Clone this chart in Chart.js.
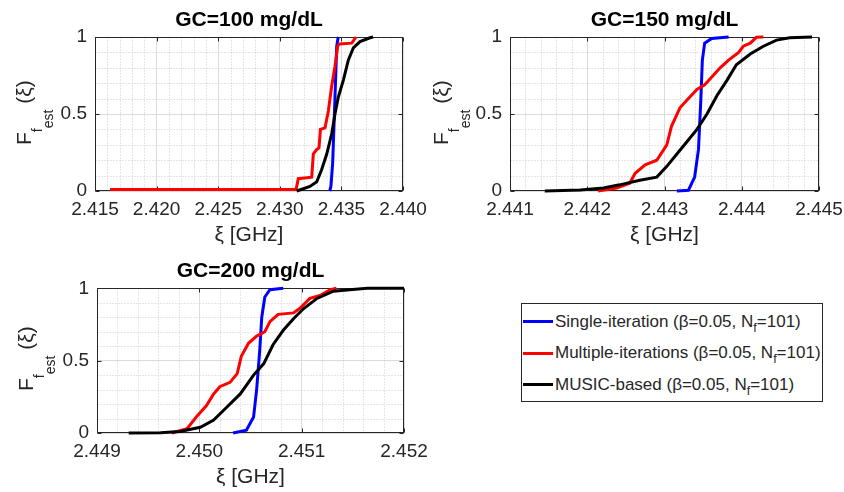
<!DOCTYPE html>
<html>
<head>
<meta charset="utf-8">
<script src="https://cdn.jsdelivr.net/npm/chart.js@4.4.1/dist/chart.umd.min.js"></script>
<style>
  html, body { margin: 0; padding: 0; background: #fff; }
  #fig { position: relative; width: 844px; height: 492px; overflow: hidden;
         font-family: 'Liberation Sans', Arial, sans-serif; color: #262626; }
  canvas { position: absolute; }
  .ylab { position: absolute; transform-origin: 0 0; transform: rotate(-90deg);
          font-size: 21px; line-height: 21px; white-space: nowrap; }
  .ylab .s1 { font-size: 14px; position: relative; top: 11px; }
  .ylab .s2 { position: relative; top: 11px; }
  #legend { position: absolute; left: 521px; top: 303px; width: 302px; height: 99px;
            box-sizing: border-box; border: 1px solid #262626; background: #fff; }
  #legend .row { position: absolute; left: 0; height: 24px; line-height: 24px; font-size: 17px; white-space: nowrap; }
  #legend .sw { position: absolute; left: 1px; top: 10.5px; width: 30px; height: 3px; }
  #legend .txt { position: absolute; left: 33px; top: 0; }
  #legend .sub { font-size: 12.5px; position: relative; top: 5px; }
</style>
</head>
<body>
<div id="fig">
  <canvas id="c1" width="430" height="250" style="left:0;top:0"></canvas>
  <canvas id="c2" width="424" height="250" style="left:420px;top:0"></canvas>
  <canvas id="c3" width="430" height="242" style="left:0;top:250px"></canvas>
  <div class="ylab" style="left:13px;top:144.5px">F<span class="s1">f<span class="s2">est</span></span> (ξ)</div>
  <div class="ylab" style="left:430px;top:144.5px">F<span class="s1">f<span class="s2">est</span></span> (ξ)</div>
  <div class="ylab" style="left:15px;top:390.5px">F<span class="s1">f<span class="s2">est</span></span> (ξ)</div>
  <div id="legend"></div>
</div>
<script>
// series names / colours
const seriesNames = ['Single-iteration', 'Multiple-iterations', 'MUSIC-based'];
const seriesColors = ['#0000ff', '#ff0000', '#000000'];
const betaValue = '0.05';
const nfValue = '101';

const titles = ['GC=100 mg/dL', 'GC=150 mg/dL', 'GC=200 mg/dL'];
const xLabel = 'ξ [GHz]';

// tick labels
const xTicks100 = [2.415, 2.420, 2.425, 2.430, 2.435, 2.440];
const xTicks150 = [2.441, 2.442, 2.443, 2.444, 2.445];
const xTicks200 = [2.449, 2.450, 2.451, 2.452];
const yTicks = [0, 0.5, 1];

// GC = 100 mg/dL (frequency in GHz, empirical CDF)
const single100X = [2.43405, 2.43415, 2.43429, 2.43448, 2.43462, 2.43472, 2.43476];
const single100F = [0, 0.03, 0.18, 0.61, 0.94, 0.99, 1];
const multi100X = [2.41622, 2.43132, 2.43150, 2.43259, 2.43272, 2.43300, 2.43318, 2.43330, 2.43367,
                   2.43394, 2.43421, 2.43448, 2.43470, 2.43482, 2.43584, 2.43619];
const multi100F = [0.01, 0.01, 0.08, 0.09, 0.24, 0.27, 0.28, 0.40, 0.41, 0.52, 0.68, 0.81, 0.94, 0.955, 0.96, 1];
const music100X = [2.43137, 2.43245, 2.43300, 2.43340, 2.43381, 2.43421, 2.43448, 2.43475, 2.43516,
                   2.43556, 2.43597, 2.43651, 2.43732, 2.43757];
const music100F = [0, 0.03, 0.06, 0.14, 0.24, 0.37, 0.50, 0.61, 0.72, 0.85, 0.93, 0.97, 0.995, 1];

// GC = 150 mg/dL
const single150X = [2.44316, 2.44331, 2.44339, 2.44344, 2.44347, 2.44349, 2.44352, 2.44361, 2.44383];
const single150F = [0, 0.005, 0.09, 0.27, 0.59, 0.85, 0.96, 0.99, 1];
const multi150X = [2.44214, 2.44238, 2.44255, 2.44262, 2.44275, 2.44290, 2.44303, 2.44309, 2.44320, 2.44331,
                   2.44342, 2.44352, 2.44363, 2.44372, 2.44383, 2.44396, 2.44402, 2.44411, 2.44419, 2.44428];
const multi150F = [0, 0.02, 0.05, 0.115, 0.17, 0.20, 0.30, 0.42, 0.54, 0.60,
                   0.66, 0.69, 0.75, 0.80, 0.85, 0.90, 0.94, 0.96, 0.998, 1];
const music150X = [2.44145, 2.44191, 2.44221, 2.44242, 2.44268, 2.44290, 2.44303, 2.44316, 2.44329, 2.44342,
                   2.44355, 2.44368, 2.44381, 2.44393, 2.44411, 2.44428, 2.44445, 2.44462, 2.44491];
const music150F = [0, 0.006, 0.02, 0.04, 0.07, 0.09, 0.16, 0.24, 0.32, 0.40,
                   0.50, 0.62, 0.72, 0.82, 0.89, 0.94, 0.98, 0.995, 1];

// GC = 200 mg/dL
const single200X = [2.45033, 2.45046, 2.45053, 2.45056, 2.45059, 2.45061, 2.45064, 2.45069, 2.45082];
const single200F = [0, 0.02, 0.11, 0.30, 0.57, 0.80, 0.94, 0.99, 1];
const multi200X = [2.44973, 2.44988, 2.44997, 2.45007, 2.45014, 2.45020, 2.45030, 2.45037, 2.45041, 2.45048,
                   2.45056, 2.45064, 2.45069, 2.45077, 2.45092, 2.45098, 2.45108, 2.45118, 2.45128, 2.45134];
const multi200F = [0, 0.03, 0.11, 0.19, 0.27, 0.32, 0.35, 0.41, 0.53, 0.62,
                   0.67, 0.70, 0.77, 0.82, 0.83, 0.86, 0.93, 0.95, 0.99, 1];
const music200X = [2.44931, 2.44962, 2.44981, 2.45001, 2.45014, 2.45027, 2.45040, 2.45053, 2.45063,
                   2.45072, 2.45082, 2.45092, 2.45102, 2.45115, 2.45131, 2.45147, 2.45164, 2.45200];
const music200F = [0, 0.002, 0.01, 0.04, 0.09, 0.18, 0.27, 0.40, 0.48, 0.61, 0.71, 0.79, 0.86, 0.93, 0.98, 0.99, 1, 1];

Chart.defaults.font.family = "'Liberation Sans', Arial, sans-serif";

// MATLAB-like axes: dotted minor grid, box and inward ticks
const axesBox = {
    id: 'axesBox',
    beforeDatasetsDraw(chart, args, opts) {
        const { ctx, chartArea: a, scales: { x, y } } = chart;
        const L = Math.round(a.left) + 0.5, R = Math.round(a.right) - 0.5;
        const T = Math.round(a.top) + 0.5, B = Math.round(a.bottom) - 0.5;
        const isMajor = (scale, v, step) => scale.ticks.some(t => Math.abs(t.value - v) < step / 10);
        ctx.save();
        ctx.lineWidth = 1;
        ctx.strokeStyle = '#cbcbcb';
        ctx.setLineDash([1, 2]);
        ctx.beginPath();
        const nx = Math.round((x.max - x.min) / opts.xStep);
        for (let i = 1; i < nx; i++) {
            const v = x.min + i * opts.xStep;
            if (isMajor(x, v, opts.xStep)) continue;
            const px = Math.round(x.getPixelForValue(v)) + 0.5;
            ctx.moveTo(px, T); ctx.lineTo(px, B);
        }
        const ny = Math.round((y.max - y.min) / opts.yStep);
        for (let i = 1; i < ny; i++) {
            const v = y.min + i * opts.yStep;
            if (isMajor(y, v, opts.yStep)) continue;
            const py = Math.round(y.getPixelForValue(v)) + 0.5;
            ctx.moveTo(L, py); ctx.lineTo(R, py);
        }
        ctx.stroke();
        ctx.setLineDash([]);
        ctx.strokeStyle = '#262626';
        ctx.strokeRect(L, T, R - L, B - T);
        ctx.beginPath();
        x.ticks.forEach(t => {
            const px = Math.round(x.getPixelForValue(t.value)) + 0.5;
            ctx.moveTo(px, B); ctx.lineTo(px, B - 4);
            ctx.moveTo(px, T); ctx.lineTo(px, T + 4);
        });
        y.ticks.forEach(t => {
            const py = Math.round(y.getPixelForValue(t.value)) + 0.5;
            ctx.moveTo(L, py); ctx.lineTo(L + 4, py);
            ctx.moveTo(R, py); ctx.lineTo(R - 4, py);
        });
        ctx.stroke();
        ctx.restore();
    }
};

const panels = [
    { id: 'c1', title: titles[0], ticks: xTicks100, minor: 0.001, yw: 95, pr: 27, tt: 8, tb: 3.8,
      series: [[single100X, single100F], [multi100X, multi100F], [music100X, music100F]] },
    { id: 'c2', title: titles[1], ticks: xTicks150, minor: 0.0002, yw: 90, pr: 25, tt: 8, tb: 3.8,
      series: [[single150X, single150F], [multi150X, multi150F], [music150X, music150F]] },
    { id: 'c3', title: titles[2], ticks: xTicks200, minor: 0.0002, yw: 97, pr: 26, tt: 9, tb: 4.1,
      series: [[single200X, single200F], [multi200X, multi200F], [music200X, music200F]] }
];

function makeChart(p) {
    const canvas = document.getElementById(p.id);
    return new Chart(canvas, {
        type: 'scatter',
        data: {
            datasets: p.series.map((s, i) => ({
                label: seriesNames[i],
                data: s[0].map((v, k) => ({ x: v, y: s[1][k] })),
                showLine: true,
                borderColor: seriesColors[i],
                backgroundColor: seriesColors[i],
                borderWidth: 3,
                pointRadius: 0,
                tension: 0,
                clip: false,
                order: 2 - i
            }))
        },
        options: {
            responsive: false,
            animation: false,
            events: [],
            layout: { padding: { left: 0, right: p.pr, top: 0, bottom: 0 } },
            plugins: {
                legend: { display: false },
                tooltip: { enabled: false },
                title: {
                    display: true, text: p.title, fullSize: false, color: '#000',
                    font: { size: 21, weight: 'bold' }, padding: { top: p.tt, bottom: p.tb }
                },
                axesBox: { xStep: p.minor, yStep: 0.1 }
            },
            scales: {
                x: {
                    type: 'linear',
                    min: p.ticks[0],
                    max: p.ticks[p.ticks.length - 1],
                    afterBuildTicks: s => { s.ticks = p.ticks.map(v => ({ value: v })); },
                    afterFit: s => { s.height = 59; s.paddingLeft = 0; s.paddingRight = 0; },
                    ticks: {
                        callback: v => Number(v).toFixed(3),
                        color: '#262626', font: { size: 19 }, padding: 7,
                        maxRotation: 0, autoSkip: false
                    },
                    grid: { color: '#dcdcdc', drawTicks: false },
                    border: { display: false },
                    title: {
                        display: true, text: xLabel, color: '#262626',
                        font: { size: 21 }, padding: { top: 0, bottom: 2 }
                    }
                },
                y: {
                    type: 'linear',
                    min: 0,
                    max: 1,
                    afterBuildTicks: s => { s.ticks = yTicks.map(v => ({ value: v })); },
                    afterFit: s => { s.width = p.yw; s.paddingTop = 0; s.paddingBottom = 0; },
                    ticks: {
                        callback: v => String(v),
                        color: '#262626', font: { size: 19 }, padding: 8
                    },
                    grid: { color: '#dcdcdc', drawTicks: false },
                    border: { display: false }
                }
            }
        },
        plugins: [axesBox]
    });
}

panels.forEach(makeChart);

// legend box
const legend = document.getElementById('legend');
seriesNames.forEach((name, i) => {
    const row = document.createElement('div');
    row.className = 'row';
    row.style.top = (5.7 + 31.5 * i) + 'px';
    row.innerHTML = '<span class="sw" style="background:' + seriesColors[i] + '"></span>' +
        '<span class="txt">' + name + ' (β=' + betaValue + ', N<span class="sub">f</span>=' + nfValue + ')</span>';
    legend.appendChild(row);
});
</script>
</body>
</html>
